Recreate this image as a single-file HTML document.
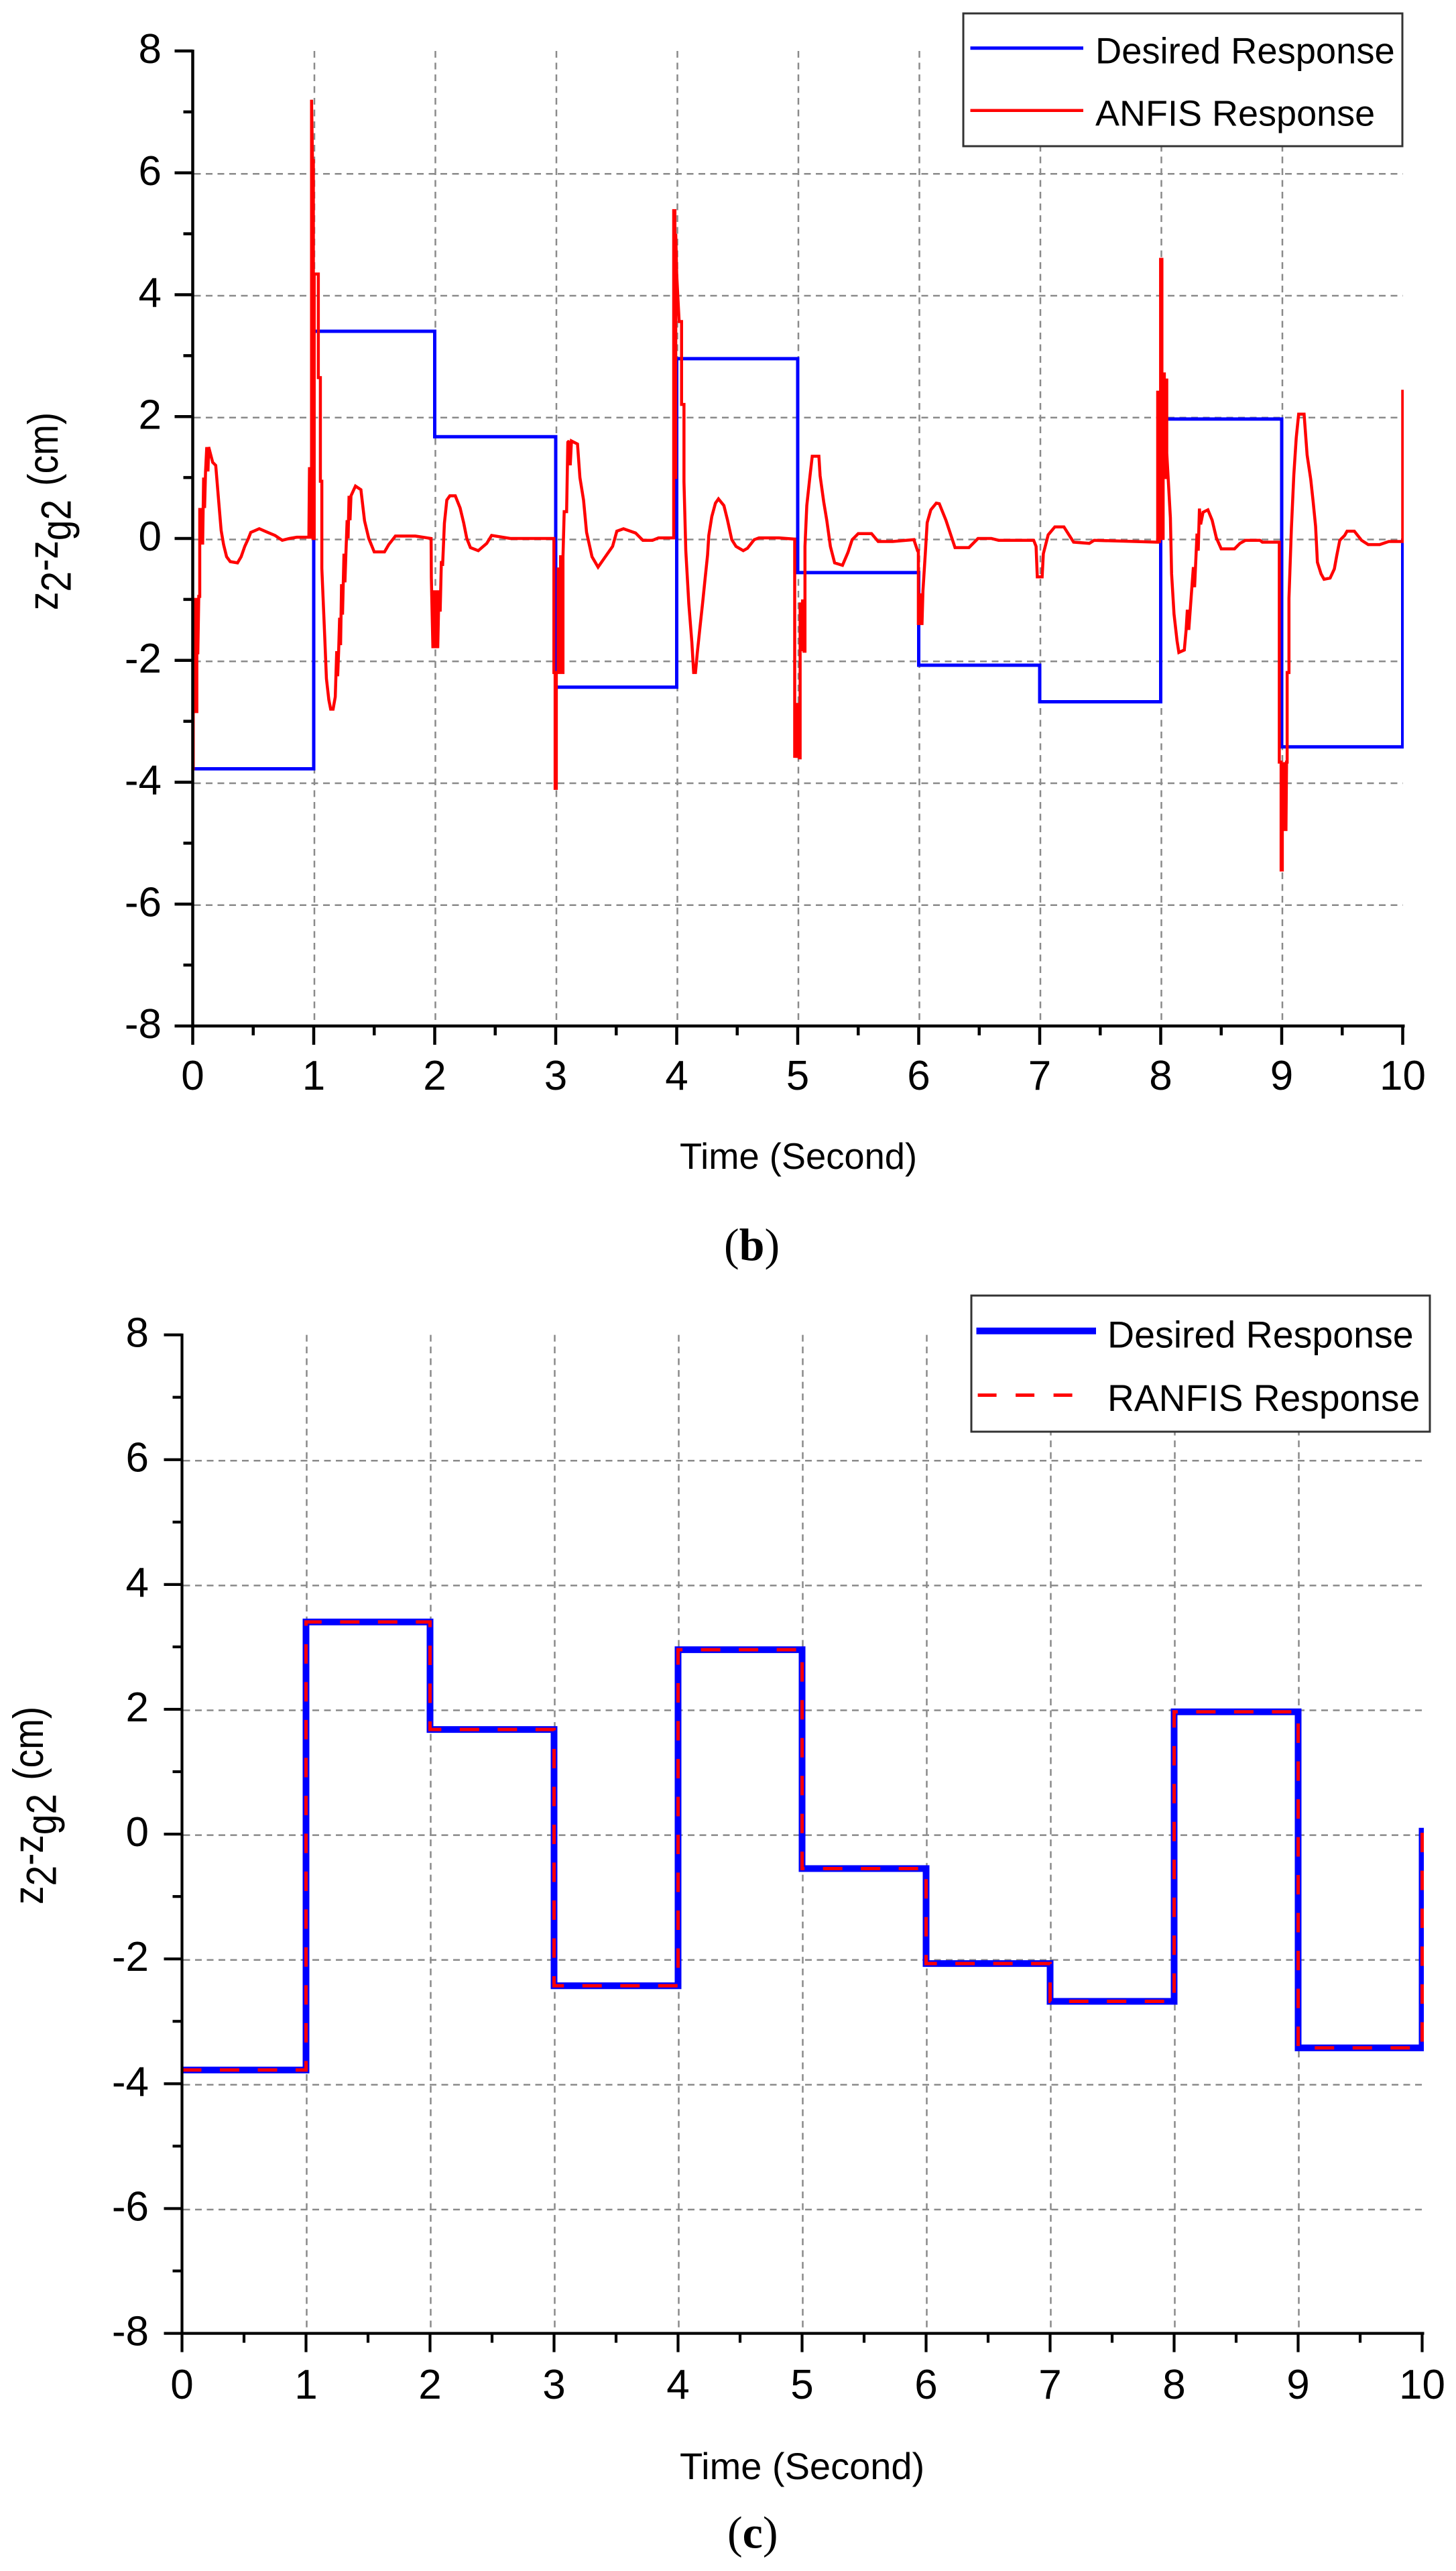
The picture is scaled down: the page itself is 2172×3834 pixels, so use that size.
<!DOCTYPE html>
<html lang="en">
<head>
<meta charset="utf-8">
<title>ANFIS and RANFIS response charts</title>
<style>
html,body{margin:0;padding:0;background:#fff;}
svg{display:block;}
text{font-family:"Liberation Sans",sans-serif;fill:#000;}
.cap{font-family:"Liberation Serif",serif;font-size:68px;}
</style>
</head>
<body>
<svg id="figure" xmlns="http://www.w3.org/2000/svg" width="2172" height="3834" viewBox="0 0 2172 3834">
  <rect width="2172" height="3834" fill="#fff"/>
  <defs>
    <clipPath id="clip-b"><rect x="285.5" y="0" width="1808.5" height="1600"/></clipPath>
    <clipPath id="clip-c"><rect x="269.5" y="1900" width="1854.5" height="1650"/></clipPath>
  </defs>

  <g id="chart-b">
    <g id="b-grid"></g>
    <g id="b-series" clip-path="url(#clip-b)"></g>
    <g id="b-axes"></g>
    <text transform="translate(86,910) rotate(-90) scale(1,1.15)" font-size="55">z<tspan dy="17">2</tspan><tspan dy="-17">-z</tspan><tspan dy="17">g2</tspan><tspan dy="-17" dx="5"> (cm)</tspan></text>
    <text x="1014" y="1743" font-size="54.3">Time (Second)</text>
    <g>
      <rect x="1437" y="20" width="655" height="198" fill="#fff" stroke="#333" stroke-width="3"/>
      <line x1="1447.5" y1="71.7" x2="1616" y2="71.7" stroke="#0000ff" stroke-width="5"/>
      <text x="1634" y="94.7" font-size="54.3">Desired Response</text>
      <line x1="1447.5" y1="164.7" x2="1616" y2="164.7" stroke="#ff0000" stroke-width="4.5"/>
      <text x="1634" y="187.7" font-size="54">ANFIS Response</text>
    </g>
    <text class="cap" x="1080" y="1879">(<tspan font-weight="bold">b</tspan>)</text>
  </g>

  <g id="chart-c">
    <g id="c-grid"></g>
    <g id="c-series" clip-path="url(#clip-c)"></g>
    <g id="c-axes"></g>
    <text transform="translate(64,2840) rotate(-90) scale(1,1.15)" font-size="55">z<tspan dy="17">2</tspan><tspan dy="-17">-z</tspan><tspan dy="17">g2</tspan><tspan dy="-17" dx="5"> (cm)</tspan></text>
    <text x="1014" y="3697" font-size="56">Time (Second)</text>
    <g>
      <rect x="1449" y="1932" width="684" height="203" fill="#fff" stroke="#333" stroke-width="3"/>
      <line x1="1456.5" y1="1984.8" x2="1635" y2="1984.8" stroke="#0000ff" stroke-width="10"/>
      <text x="1652" y="2009.7" font-size="55.5">Desired Response</text>
      <line x1="1458.6" y1="2080.5" x2="1602" y2="2080.5" stroke="#ff0000" stroke-width="5" stroke-dasharray="28 28.5"/>
      <text x="1652" y="2104" font-size="55.2">RANFIS Response</text>
    </g>
    <text class="cap" x="1085" y="3799.5">(<tspan font-weight="bold">c</tspan>)</text>
  </g>
</svg>

<script>
// ---- Chart data ----
var xTickLabels = ["0","1","2","3","4","5","6","7","8","9","10"];
var xTickValues = [0,1,2,3,4,5,6,7,8,9,10];
var xMinorValues = [0.5,1.5,2.5,3.5,4.5,5.5,6.5,7.5,8.5,9.5];
var xGridValues = [1,2,3,4,5,6,7,8,9];
var yTickLabels = ["8","6","4","2","0","-2","-4","-6","-8"];
var yTickValues = [8,6,4,2,0,-2,-4,-6,-8];
var yMinorValues = [7,5,3,1,-1,-3,-5,-7];
var yGridValues = [6,4,2,0,-2,-4,-6];

var stepTimes = [0,1,2,3,4,5,6,7,8,9,10];
var desiredValuesB = [-3.78,3.4,1.67,-2.44,2.95,-0.56,-2.08,-2.68,1.96,-3.42,0];
var desiredValuesC = [-3.78,3.4,1.676,-2.43,2.955,-0.553,-2.074,-2.68,1.96,-3.425,0.1];
var ranfisValuesC = [-3.78,3.4,1.676,-2.43,2.955,-0.553,-2.074,-2.68,1.96,-3.425,0.1];

var anfisTimes = [
0,.004,.01,.018,.026,.034,.042,.05,.058,.066,.074,.082,.09,.098,.106,.116,.126,.132,.165,.19,
.215,.235,.255,.28,.31,.37,.4,.43,.46,.48,.55,.62,.68,.74,.8,.86,.96,
.965,.975,.982,.99,.997,1.004,1.038,1.055,1.067,1.09,1.105,1.125,1.14,1.16,1.178,1.19,1.198,1.206,1.214,1.222,
1.23,1.238,1.25,1.258,1.266,1.276,1.284,1.292,1.3,1.308,1.345,1.39,1.42,1.455,1.5,1.585,1.62,1.675,1.84,1.97,
1.972,1.985,1.995,2.005,2.015,2.025,2.035,2.045,2.055,2.065,2.08,2.1,2.125,2.17,2.21,2.24,2.265,2.295,2.36,2.43,2.47,2.625,2.97,
2.985,2.995,3.005,3.02,3.03,3.04,3.05,3.06,3.07,3.09,3.1,3.11,3.12,3.13,3.18,3.2,3.23,3.255,3.3,3.35,3.41,3.47,3.505,3.56,3.66,3.72,3.8,3.85,3.97,
3.975,3.985,3.992,4.0,4.02,4.04,4.06,4.075,4.1,4.125,4.14,4.155,4.17,4.19,4.215,4.235,4.255,4.265,4.29,4.32,4.345,4.39,4.42,4.455,4.49,4.55,4.585,4.64,4.68,4.845,4.97,
4.975,4.985,4.995,5.005,5.015,5.02,5.03,5.04,5.052,5.06,5.075,5.1,5.12,5.175,5.185,5.215,5.24,5.27,5.305,5.37,5.415,5.45,5.5,5.61,5.665,5.785,5.96,5.99,
5.997,6.005,6.012,6.02,6.027,6.035,6.055,6.07,6.1,6.145,6.17,6.225,6.3,6.415,6.49,6.6,6.66,6.95,6.97,
6.98,7.0,7.02,7.03,7.07,7.125,7.2,7.28,7.41,7.45,7.79,7.97,
7.975,7.983,7.991,7.999,8.01,8.02,8.03,8.04,8.05,8.08,8.09,8.11,8.135,8.15,8.195,8.21,8.22,8.232,8.255,8.27,8.28,8.3,8.31,8.32,8.33,8.35,8.39,8.425,8.46,8.5,8.61,8.655,8.7,8.82,8.84,8.975,
8.98,8.995,9.005,9.015,9.025,9.035,9.04,9.045,9.06,9.08,9.1,9.12,9.14,9.185,9.21,9.24,9.26,9.28,9.295,9.325,9.35,9.4,9.435,9.455,9.48,9.52,9.54,9.6,9.66,9.715,9.81,9.885,9.995,10
];
var anfisValues = [
-3.78,-1.9,-2.84,-1,-2.84,-1,-1.9,-.95,.5,-.1,.5,-.1,1,.5,1.1,1.5,1.1,1.5,1.25,1.2,
.6,.13,-.1,-.3,-.38,-.4,-.3,-.13,0,.1,.16,.1,.05,-.03,0,.02,.02,
1.17,.02,7.2,6.2,0,4.34,2.64,.94,-.49,-1.57,-2.3,-2.65,-2.8,-2.8,-2.6,-1.85,-2.26,-1.85,-1.3,-1.75,
-.75,-1.25,-.25,-.72,-.25,.3,0,.7,.3,.7,.86,.8,.29,0,-.22,-.22,-.1,.04,.04,0,
-.64,-1.8,-.85,-1.8,-.85,-1.8,-.85,-1.2,-.37,-.45,.25,.63,.7,.7,.5,.25,0,-.15,-.2,-.08,.05,0,0,
-2.2,-4.1,-2.2,-.5,-2.2,-.3,-2.2,-.3,.44,.44,1.58,1.6,1.2,1.6,1.55,1,.63,.1,-.3,-.47,-.3,-.13,.12,.16,.09,-.03,-.03,.01,.01,
5.38,1,5,4.33,3.56,2.2,.93,-.2,-1.07,-1.7,-2.2,-2.2,-1.88,-1.5,-1.04,-.65,-.27,.05,.36,.58,.65,.54,.3,-.02,-.13,-.2,-.16,-.02,.01,.01,-.01,
-3.6,-2.7,-3.6,-2.7,-3.6,-1.05,-1.85,-1,-1.85,-.13,.54,1,1.35,1.35,1.03,.6,.3,-.13,-.4,-.44,-.23,-.02,.08,.08,-.05,-.05,-.02,-.2,
-1.42,-.9,-1.42,-.9,-1.42,-.86,-.23,.26,.47,.58,.57,.3,-.15,-.15,0,0,-.03,-.03,-.13,
-.63,-.63,-.63,-.25,.06,.19,.19,-.06,-.08,-.03,-.05,-.06,
2.4,-.05,2.4,4.58,0,2.7,1,2.6,1.4,.34,-.58,-1.24,-1.68,-1.87,-1.83,-1.5,-1.17,-1.5,-.87,-.47,-.8,.08,-.2,.49,.23,.43,.47,.3,.01,-.17,-.17,-.08,-.03,-.03,-.06,-.06,
-3.67,-5.44,-3.67,-4.8,-3.67,-4.8,-3.67,-2.2,-.98,.16,1.04,1.65,2.04,2.04,1.37,.97,.6,.2,-.39,-.58,-.67,-.65,-.5,-.28,-.03,.05,.12,.12,-.03,-.1,-.1,-.05,-.05,2.44
];

// ---- Drawing ----
var NS = "http://www.w3.org/2000/svg";
var SMOOTH_JUMP_LIMIT = 1.2;

function make(tag, parent, attrs, text) {
  var el = document.createElementNS(NS, tag);
  for (var k in attrs) { el.setAttribute(k, attrs[k]); }
  if (text !== undefined) { el.textContent = text; }
  parent.appendChild(el);
  return el;
}

function makeAxisX(x0, x10) {
  return function (t) { return x0 + (x10 - x0) * (t / 10); };
}

function makeAxisY(yTop, yBottom) {
  return function (v) { return yTop + (yBottom - yTop) * ((8 - v) / 16); };
}

function stepPath(times, values, xs, ys) {
  var n = Math.min(times.length, values.length);
  var d = "M" + xs(times[0]).toFixed(2) + " " + ys(values[0]).toFixed(2);
  for (var i = 1; i < n; i++) {
    d += "H" + xs(times[i]).toFixed(2) + "V" + ys(values[i]).toFixed(2);
  }
  return d;
}

// Large jumps hold then drop; small changes follow the gently sloped response.
function responsePath(times, values, xs, ys) {
  var n = Math.min(times.length, values.length);
  var d = "M" + xs(times[0]).toFixed(2) + " " + ys(values[0]).toFixed(2);
  for (var i = 1; i < n; i++) {
    if (Math.abs(values[i] - values[i - 1]) > SMOOTH_JUMP_LIMIT) {
      d += "H" + xs(times[i]).toFixed(2) + "V" + ys(values[i]).toFixed(2);
    } else {
      d += "L" + xs(times[i]).toFixed(2) + " " + ys(values[i]).toFixed(2);
    }
  }
  return d;
}

function drawGrid(id, xs, ys, yTop, yBottom, xLeft, xRight) {
  var g = document.getElementById(id);
  xGridValues.forEach(function (t) {
    var line = make("line", g, {x1: xs(t) + 1, x2: xs(t) + 1, y1: yTop, y2: yBottom, stroke: "#8a8a8a", "stroke-width": 2.5, "stroke-dasharray": "10 7.5"});
    
    
  });
  yGridValues.forEach(function (v) {
    var line = make("line", g, {x1: xLeft + 2, x2: xRight, y1: ys(v) + 1.5, y2: ys(v) + 1.5, stroke: "#8a8a8a", "stroke-width": 2.5, "stroke-dasharray": "10 7.5"});
    
    
  });
}

function drawAxes(id, xs, ys, opts) {
  var g = document.getElementById(id);
  var left = xs(0), right = xs(10), bottom = ys(-8), top = ys(8);
  var w = opts.axisWidth;

  var yAxis = make("line", g, {x1: left, x2: left, y1: top - 2, y2: bottom + 2, stroke: "#000", "stroke-width": w});
  
  

  var xAxis = make("line", g, {x1: left - 2, x2: right + 3, y1: bottom, y2: bottom, stroke: "#000", "stroke-width": w});
  
  

  yTickValues.forEach(function (v, i) {
    var tick = make("line", g, {x1: left - 27, x2: left, y1: ys(v), y2: ys(v), stroke: "#000", "stroke-width": w});
    
    
    var label = make("text", g, {x: opts.yLabelRight, y: ys(v) + 18, "text-anchor": "end", "font-size": opts.tickFont}, yTickLabels[i]);
    
    
  });
  yMinorValues.forEach(function (v) {
    var tick = make("line", g, {x1: left - 14, x2: left, y1: ys(v), y2: ys(v), stroke: "#000", "stroke-width": w});
    
    
  });
  xTickValues.forEach(function (t, i) {
    var tick = make("line", g, {x1: xs(t), x2: xs(t), y1: bottom, y2: bottom + 28, stroke: "#000", "stroke-width": w});
    
    
    var label = make("text", g, {x: xs(t), y: opts.xLabelBaseline, "text-anchor": "middle", "font-size": opts.tickFont}, xTickLabels[i]);
    
    
  });
  xMinorValues.forEach(function (t) {
    var tick = make("line", g, {x1: xs(t), x2: xs(t), y1: bottom, y2: bottom + 14, stroke: "#000", "stroke-width": w});
    
    
  });
}

// Panel (b): desired vs. ANFIS response
var xB = makeAxisX(287.5, 2092.5);
var yB = makeAxisY(76, 1530);
drawGrid("b-grid", xB, yB, 76, 1530, 287.5, 2092.5);
var desiredB = make("path", document.getElementById("b-series"), {d: stepPath(stepTimes, desiredValuesB, xB, yB), fill: "none", stroke: "#0000ff", "stroke-width": 5});


var anfisLine = make("path", document.getElementById("b-series"), {d: responsePath(anfisTimes, anfisValues, xB, yB), fill: "none", stroke: "#ff0000", "stroke-width": 4.5, "stroke-linejoin": "miter", "stroke-miterlimit": 2});


drawAxes("b-axes", xB, yB, {axisWidth: 4.5, yLabelRight: 241, xLabelBaseline: 1625, tickFont: 62});

// Panel (c): desired vs. RANFIS response
var xC = makeAxisX(271.5, 2121.5);
var yC = makeAxisY(1990.6, 3479.6);
drawGrid("c-grid", xC, yC, 1990.6, 3479.6, 271.5, 2121.5);
var desiredC = make("path", document.getElementById("c-series"), {d: stepPath(stepTimes, desiredValuesC, xC, yC), fill: "none", stroke: "#0000ff", "stroke-width": 10});


var ranfisLine = make("path", document.getElementById("c-series"), {d: stepPath(stepTimes, ranfisValuesC, xC, yC), fill: "none", stroke: "#ff0000", "stroke-width": 5, "stroke-dasharray": "29 27.5"});


drawAxes("c-axes", xC, yC, {axisWidth: 4.2, yLabelRight: 222, xLabelBaseline: 3577, tickFont: 62});
</script>
</body>
</html>
